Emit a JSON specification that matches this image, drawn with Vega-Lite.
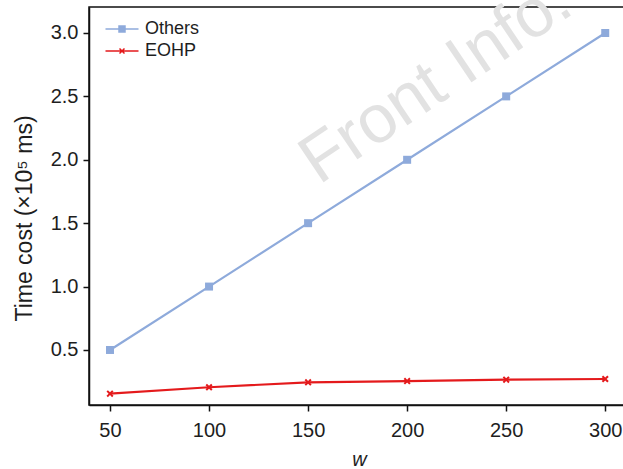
{
  "$schema": "https://vega.github.io/schema/vega-lite/v6.json",
  "width": 540,
  "height": 398,
  "autosize": "none",
  "padding": {"left": 89, "top": 7, "right": 0, "bottom": 64},
  "config": {
    "view": {"stroke": "#111111", "strokeWidth": 1.5},
    "font": "Liberation Sans",
    "axis": {"grid": false, "domainColor": "#111111", "domainWidth": 1.5, "tickColor": "#111111", "tickWidth": 1.5, "tickSize": 6, "labelColor": "#1e1e1e", "titleColor": "#1e1e1e", "labelFont": "Liberation Sans", "titleFont": "Liberation Sans", "titleFontWeight": "normal"}
  },
  "datasets": {
    "series": [
      {"w": 50, "t": 0.5, "series": "Others"},
      {"w": 100, "t": 1.0, "series": "Others"},
      {"w": 150, "t": 1.5, "series": "Others"},
      {"w": 200, "t": 2.0, "series": "Others"},
      {"w": 250, "t": 2.5, "series": "Others"},
      {"w": 300, "t": 3.0, "series": "Others"},
      {"w": 50, "t": 0.155, "series": "EOHP"},
      {"w": 100, "t": 0.206, "series": "EOHP"},
      {"w": 150, "t": 0.245, "series": "EOHP"},
      {"w": 200, "t": 0.255, "series": "EOHP"},
      {"w": 250, "t": 0.266, "series": "EOHP"},
      {"w": 300, "t": 0.271, "series": "EOHP"}
    ],
    "watermark": [{"w": 155.5, "t": 1.8, "label": "Front Info."}]
  },
  "encoding": {
    "x": {
      "field": "w", "type": "quantitative",
      "scale": {"domain": [39.4, 312], "nice": false, "zero": false},
      "axis": {"values": [50, 100, 150, 200, 250, 300], "labelFontSize": 20, "labelPadding": 9, "title": "w", "titleFontStyle": "italic", "titleFontSize": 20, "titleY": 60, "titleBaseline": "alphabetic"}
    },
    "y": {
      "field": "t", "type": "quantitative",
      "scale": {"domain": [0.066, 3.205], "nice": false, "zero": false},
      "axis": {"values": [0.5, 1.0, 1.5, 2.0, 2.5, 3.0], "format": ".1f", "labelFontSize": 20, "labelPadding": 5, "title": "Time cost (×10⁵ ms)", "titleFontSize": 23, "titleX": -58, "titleY": 211, "titleAngle": 270, "titleAlign": "center", "titleBaseline": "alphabetic"}
    }
  },
  "layer": [
    {
      "data": {"name": "watermark"},
      "mark": {"type": "text", "align": "left", "baseline": "alphabetic", "angle": 326, "fontSize": 68, "color": "#e2e2e2", "font": "Liberation Sans"},
      "encoding": {"text": {"field": "label"}}
    },
    {
      "data": {"name": "series"},
      "mark": {"type": "line", "strokeWidth": 2.2},
      "encoding": {
        "color": {
          "field": "series", "type": "nominal",
          "scale": {"domain": ["Others", "EOHP"], "range": ["#8eaadb", "#e41a1c"]},
          "legend": {
            "orient": "none", "legendX": 24, "legendY": 13, "title": null, "padding": 0,
            "symbolSize": 100, "symbolStrokeWidth": 1.5,
            "labelFontSize": 18, "labelFont": "Liberation Sans", "labelColor": "#1e1e1e",
            "labelOffset": 14, "rowPadding": 4,
            "encode": {"symbols": {"update": {
              "shape": {"signal": "datum.value === 'Others' ? 'M-3.3,0H3.3M-0.6,-0.6H0.6V0.6H-0.6Z' : 'M-3.3,0H3.3M-0.5,-0.5L0.5,0.5M-0.5,0.5L0.5,-0.5'"},
              "stroke": {"signal": "scale('color', datum.value)"},
              "fill": {"signal": "scale('color', datum.value)"},
              "opacity": {"value": 1}
            }}}
          }
        }
      }
    },
    {
      "data": {"name": "series"},
      "transform": [{"filter": "datum.series === 'Others'"}],
      "mark": {"type": "point", "filled": true, "opacity": 1, "shape": "square", "size": 64, "color": "#8eaadb"}
    },
    {
      "data": {"name": "series"},
      "transform": [{"filter": "datum.series === 'EOHP'"}],
      "mark": {"type": "point", "filled": true, "opacity": 1, "shape": "M-1,-0.6L-0.6,-1L0,-0.4L0.6,-1L1,-0.6L0.4,0L1,0.6L0.6,1L0,0.4L-0.6,1L-1,0.6L-0.4,0Z", "size": 49, "color": "#e41a1c"}
    }
  ]
}
